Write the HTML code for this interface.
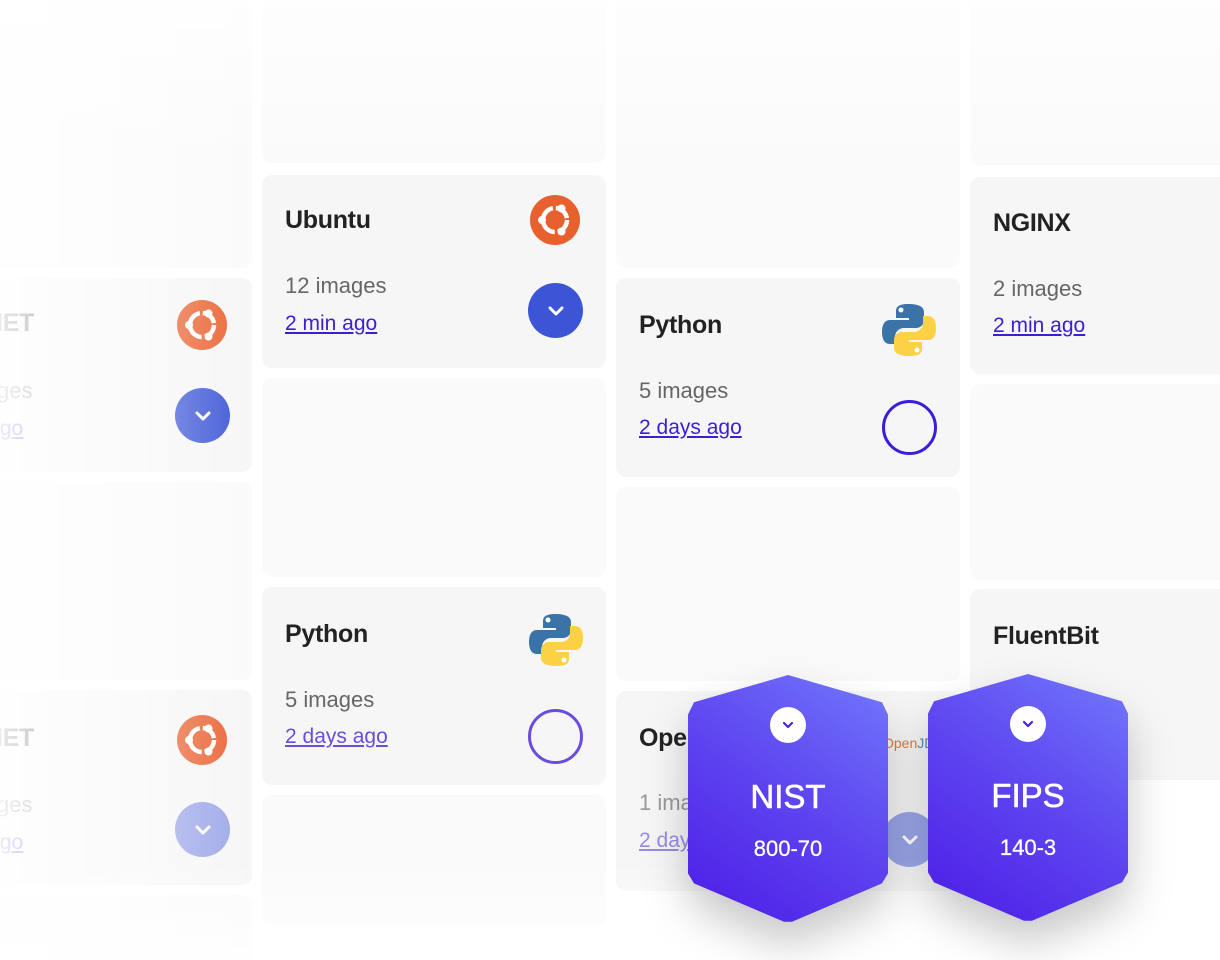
<!DOCTYPE html>
<html style="width:1220px;height:960px;overflow:hidden"><head><meta charset="utf-8"><style>
*{margin:0;padding:0;box-sizing:border-box}
body{width:1220px;height:960px;background:#fff;position:relative;overflow:hidden;font-family:"Liberation Sans",sans-serif}
.c{position:absolute;background:#f6f6f6;border-radius:10px}
.e{background:#fafafa}
.t{position:absolute;font-size:25px;font-weight:bold;color:#222;line-height:30px;letter-spacing:-0.3px}
.n{position:absolute;font-size:22px;color:#666;line-height:26px}
.l{position:absolute;font-size:21px;color:#3a1fd6;text-decoration:underline;line-height:26px}
.ub{position:absolute;width:50px;height:50px}
.btn{position:absolute;width:55px;height:55px;border-radius:50%;background:#3b55d6;display:flex;align-items:center;justify-content:center}
.ring{position:absolute;width:55px;height:55px;border-radius:50%;border:3px solid #3a1ed8}
.py{position:absolute;width:56px;height:56px}
.fade{position:absolute;pointer-events:none}
.bw{position:absolute;width:200px;height:248px;filter:drop-shadow(0 22px 22px rgba(0,0,0,.22))}
.b{width:100%;height:100%;clip-path:polygon(50% 0,97% 11%,100% 16%,100% 80%,97% 84%,52% 99.5%,48% 99.5%,3% 84%,0 80%,0 16%,3% 11%);background:linear-gradient(215deg,#7279fc 0%,#5f48f0 45%,#4c1be6 100%);position:relative;color:#fff;text-align:center}
.bc{position:absolute;left:82px;top:32px;width:36px;height:36px;border-radius:50%;background:#fff;display:flex;align-items:center;justify-content:center}
.bt{position:absolute;left:0;right:0;top:103px;font-size:33px;line-height:38px;-webkit-text-stroke:0.6px #fff}
.bs{position:absolute;left:0;right:0;top:160px;font-size:22px;line-height:28px;-webkit-text-stroke:0.3px #fff}
</style></head><body>
<svg width="0" height="0" style="position:absolute"><defs>
<g id="ubu"><circle cx="25" cy="25" r="25" fill="#e9602f"/><circle cx="25" cy="25" r="12" fill="none" stroke="#fff" stroke-width="4.5" stroke-dasharray="16 3"/><circle cx="12" cy="25" r="4" fill="#fff"/><circle cx="31.5" cy="13.5" r="4" fill="#fff"/><circle cx="31.5" cy="36.5" r="4" fill="#fff"/></g>
<g id="pyt"><path d="M27 2c-12 0-12 5-12 8v6h13v2H9c-5 0-8 4-8 12s3 12 8 12h5v-7c0-5 4-9 9-9h12c4 0 8-3 8-8V10c0-5-5-8-16-8z" fill="#3a73a8"/><circle cx="20" cy="8" r="2.5" fill="#fff"/><path d="M29 54c12 0 12-5 12-8v-6H28v-2h19c5 0 8-4 8-12s-3-12-8-12h-5v7c0 5-4 9-9 9H21c-4 0-8 3-8 8v8c0 5 5 8 16 8z" fill="#fcd144"/><circle cx="36" cy="48" r="2.5" fill="#fff"/></g>
<g id="chev"><path d="M-6 -3 L0 3 L6 -3" fill="none" stroke="#fff" stroke-width="3" stroke-linecap="round" stroke-linejoin="round"/></g>
</defs></svg>

<!-- column A -->
<div class="c e" style="left:-92px;top:0;width:344px;height:268px"></div>
<div class="c" style="left:-92px;top:278px;width:344px;height:194px"></div>
<div class="t" style="left:-69px;top:308px">ASP.NET</div>
<div class="n" style="left:-69px;top:378px">12 images</div>
<div class="l" style="left:-69px;top:416px">2 min ago</div>
<svg class="ub" style="left:177px;top:300px" viewBox="0 0 50 50"><use href="#ubu"/></svg>
<div class="btn" style="left:175px;top:388px"><svg width="20" height="20" viewBox="-10 -10 20 20"><use href="#chev"/></svg></div>
<div class="c e" style="left:-92px;top:482px;width:344px;height:198px"></div>
<div class="c" style="left:-92px;top:690px;width:344px;height:195px"></div>
<div class="t" style="left:-69px;top:723px">ASP.NET</div>
<div class="n" style="left:-69px;top:792px">12 images</div>
<div class="l" style="left:-69px;top:830px">2 min ago</div>
<svg class="ub" style="left:177px;top:715px" viewBox="0 0 50 50"><use href="#ubu"/></svg>
<div class="btn" style="left:175px;top:802px;background:#9aa5e8"><svg width="20" height="20" viewBox="-10 -10 20 20"><use href="#chev"/></svg></div>
<div class="c e" style="left:-92px;top:895px;width:344px;height:65px;border-radius:10px 10px 0 0"></div>

<!-- column B -->
<div class="c e" style="left:262px;top:0;width:344px;height:163px"></div>
<div class="c" style="left:262px;top:175px;width:344px;height:193px"></div>
<div class="t" style="left:285px;top:205px">Ubuntu</div>
<div class="n" style="left:285px;top:273px">12 images</div>
<div class="l" style="left:285px;top:311px">2 min ago</div>
<svg class="ub" style="left:530px;top:195px" viewBox="0 0 50 50"><use href="#ubu"/></svg>
<div class="btn" style="left:528px;top:283px"><svg width="20" height="20" viewBox="-10 -10 20 20"><use href="#chev"/></svg></div>
<div class="c e" style="left:262px;top:378px;width:344px;height:199px"></div>
<div class="c" style="left:262px;top:587px;width:344px;height:198px"></div>
<div class="t" style="left:285px;top:619px">Python</div>
<div class="n" style="left:285px;top:687px">5 images</div>
<div class="l" style="left:285px;top:724px;color:#6a4de0">2 days ago</div>
<svg class="py" style="left:528px;top:612px" viewBox="0 0 56 56"><use href="#pyt"/></svg>
<div class="ring" style="left:528px;top:709px;border-color:#6a4de0"></div>
<div class="c e" style="left:262px;top:795px;width:344px;height:130px"></div>

<!-- column C -->
<div class="c e" style="left:616px;top:0;width:344px;height:268px"></div>
<div class="c" style="left:616px;top:278px;width:344px;height:199px"></div>
<div class="t" style="left:639px;top:310px">Python</div>
<div class="n" style="left:639px;top:378px">5 images</div>
<div class="l" style="left:639px;top:415px">2 days ago</div>
<svg class="py" style="left:881px;top:302px" viewBox="0 0 56 56"><use href="#pyt"/></svg>
<div class="ring" style="left:882px;top:400px"></div>
<div class="c e" style="left:616px;top:487px;width:344px;height:194px"></div>
<div class="c" style="left:616px;top:691px;width:344px;height:200px"></div>
<div class="t" style="left:639px;top:723px">OpenJDK</div>
<div class="n" style="left:639px;top:790px;color:#999">1 image</div>
<div class="l" style="left:639px;top:828px;color:#9b8ae6">2 days ago</div>
<div style="position:absolute;left:883px;top:735px;font-size:14px;color:#e07b39">Open<span style="color:#5a89b5">JDK</span></div>
<div class="btn" style="left:882px;top:812px;background:#9aa5e8"><svg width="20" height="20" viewBox="-10 -10 20 20"><use href="#chev"/></svg></div>

<!-- column D -->
<div class="c e" style="left:970px;top:0;width:344px;height:165px"></div>
<div class="c" style="left:970px;top:177px;width:344px;height:197px"></div>
<div class="t" style="left:993px;top:208px">NGINX</div>
<div class="n" style="left:993px;top:276px">2 images</div>
<div class="l" style="left:993px;top:313px">2 min ago</div>
<div class="c e" style="left:970px;top:384px;width:344px;height:196px"></div>
<div class="c" style="left:970px;top:589px;width:344px;height:191px"></div>
<div class="t" style="left:993px;top:621px">FluentBit</div>

<!-- fades -->
<div class="fade" style="left:0;top:0;width:260px;height:960px;background:linear-gradient(90deg,rgba(255,255,255,.9) 0%,rgba(255,255,255,.55) 40%,rgba(255,255,255,0) 100%)"></div>
<div class="fade" style="left:0;top:0;width:1220px;height:170px;background:linear-gradient(180deg,rgba(255,255,255,.75),rgba(255,255,255,0))"></div>
<div class="fade" style="left:0;top:860px;width:1220px;height:100px;background:linear-gradient(180deg,rgba(255,255,255,0),rgba(255,255,255,.8))"></div>

<!-- badges -->
<div class="bw" style="left:688px;top:675px"><div class="b">
<div class="bc"><svg width="16" height="16" viewBox="-8 -8 16 16"><path d="M-4 -2 L0 2 L4 -2" fill="none" stroke="#4b1fe0" stroke-width="2.2" stroke-linecap="round" stroke-linejoin="round"/></svg></div>
<div class="bt">NIST</div><div class="bs">800-70</div></div></div>
<div class="bw" style="left:928px;top:674px"><div class="b">
<div class="bc"><svg width="16" height="16" viewBox="-8 -8 16 16"><path d="M-4 -2 L0 2 L4 -2" fill="none" stroke="#4b1fe0" stroke-width="2.2" stroke-linecap="round" stroke-linejoin="round"/></svg></div>
<div class="bt">FIPS</div><div class="bs">140-3</div></div></div>
</body></html>
